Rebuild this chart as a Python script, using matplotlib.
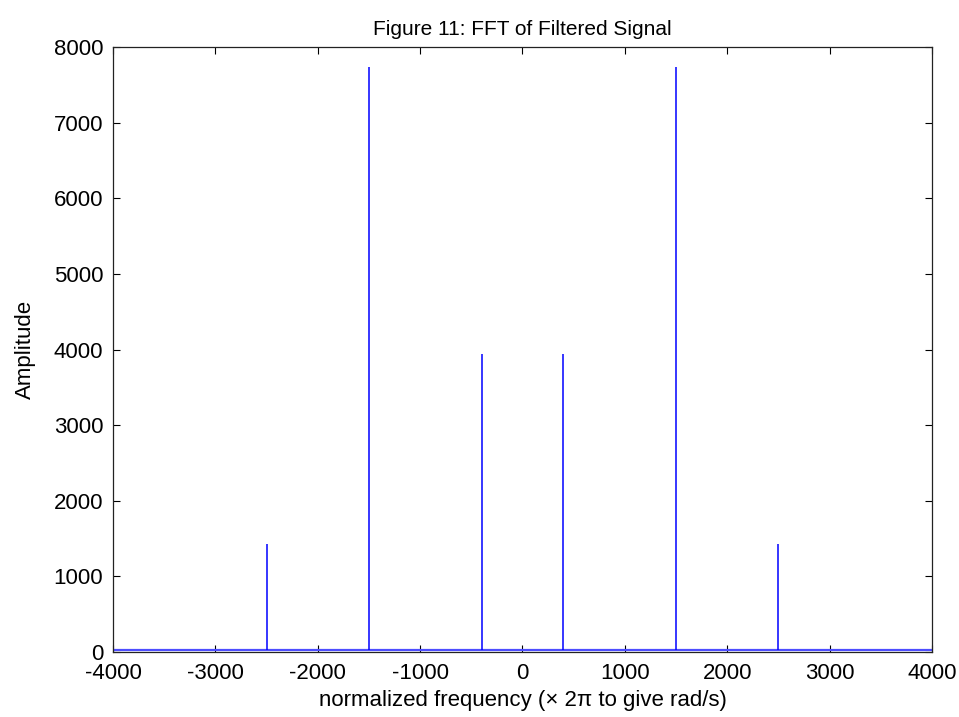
import matplotlib
matplotlib.use("Agg")
import matplotlib.pyplot as plt

# spectrum peaks of the filtered signal
freqs = [-2500, -1500, -400, 400, 1500, 2500]
amps = [1430, 7740, 3940, 3940, 7740, 1430]
noise_floor = 25
xticks = [-4000, -3000, -2000, -1000, 0, 1000, 2000, 3000, 4000]
yticks = [0, 1000, 2000, 3000, 4000, 5000, 6000, 7000, 8000]

plt.rcParams['font.family'] = ['Liberation Sans', 'DejaVu Sans']
plt.rcParams['axes.unicode_minus'] = False

fig = plt.figure(figsize=(9.59, 7.17), dpi=100)
ax = fig.add_axes([0.1178, 0.0907, 0.8540, 0.8437])

# flat floor across the whole band, then the peaks on top of it
ax.hlines(noise_floor, xticks[0], xticks[-1], color='#4d4dff', linewidth=1.6)
ax.vlines(freqs, noise_floor, amps, color='#0000ff', linewidth=1.1)

ax.set_xlim(xticks[0], xticks[-1])
ax.set_ylim(yticks[0], yticks[-1])
ax.set_xticks(xticks)
ax.set_yticks(yticks)
ax.tick_params(direction='in', length=5, width=0.8, top=True, right=True,
               labelsize=16)
ax.tick_params(axis='y', pad=7)
ax.tick_params(axis='x', pad=8)
for s in ax.spines.values():
    s.set_linewidth(0.9)
    s.set_color('#222222')

ax.set_title('Figure 11: FFT of Filtered Signal', fontsize=15, pad=9)
ax.set_xlabel('normalized frequency (\u00d7 2\u03c0 to give rad/s)', fontsize=16, labelpad=4)
ax.set_ylabel('Amplitude', fontsize=16, labelpad=13)

fig.savefig('out.png', dpi=100)
